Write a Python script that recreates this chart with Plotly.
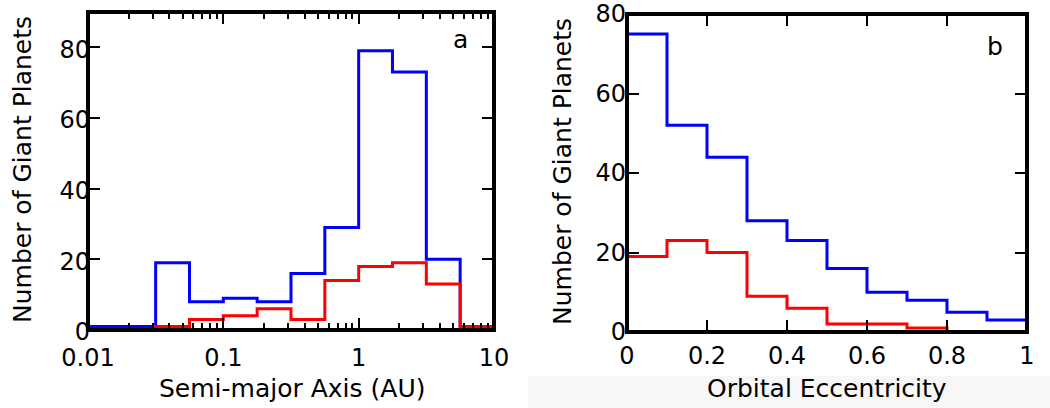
import plotly.graph_objects as go

# ---- Data ----
# Panel a: semi-major axis histogram (quarter-decade bins, 0.01 .. 10 AU)
a_edges = [0.01, 0.01778, 0.03162, 0.05623, 0.1, 0.1778, 0.3162, 0.5623, 1.0, 1.778, 3.162, 5.623, 10.0]
a_blue = [1, 1, 19, 8, 9, 8, 16, 29, 79, 73, 20, 1]
a_red = [0, 0, 1, 3, 4, 6, 3, 14, 18, 19, 13, 1]

# Panel b: orbital eccentricity histogram (bins of 0.1)
e_edges = [0.0, 0.1, 0.2, 0.3, 0.4, 0.5, 0.6, 0.7, 0.8, 0.9, 1.0]
e_blue = [75, 52, 44, 28, 23, 16, 10, 8, 5, 3]
e_red = [19, 23, 20, 9, 6, 2, 2, 1, 0, 0]

a_ticks = [0.01, 0.1, 1, 10]
a_ticktext = ["0.01", "0.1", "1", "10"]
a_minor = [m * d for d in (0.01, 0.1, 1) for m in range(2, 10)]
e_ticks = [0, 0.2, 0.4, 0.6, 0.8, 1]
e_ticktext = ["0", "0.2", "0.4", "0.6", "0.8", "1"]
y_ticks = [0, 20, 40, 60, 80]

BLUE = "#0000ff"
RED = "#ff0000"
FONT = "DejaVu Sans"
FS_TICK = 24
FS_TITLE = 25


def steps(edges, counts):
    return list(edges), list(counts) + [counts[-1]]


fig = go.Figure()
for counts, col in ((a_blue, BLUE), (a_red, RED)):
    x, y = steps(a_edges, counts)
    fig.add_trace(go.Scatter(x=x, y=y, mode="lines", line=dict(shape="hv", color=col, width=3),
                             xaxis="x", yaxis="y", showlegend=False, hoverinfo="skip"))
for counts, col in ((e_blue, BLUE), (e_red, RED)):
    x, y = steps(e_edges, counts)
    fig.add_trace(go.Scatter(x=x, y=y, mode="lines", line=dict(shape="hv", color=col, width=3),
                             xaxis="x2", yaxis="y2", showlegend=False, hoverinfo="skip"))

W, H = 1050, 408
common = dict(showline=False, mirror="ticks", automargin=False,
              ticks="inside", ticklen=12, tickwidth=2, tickcolor="black",
              showgrid=False, zeroline=False,
              tickfont=dict(family=FONT, size=FS_TICK, color="black"))


def title_ann(text, x, y, angle=0):
    return dict(text=text, xref="paper", yref="paper", x=x / W, y=1 - y / H, showarrow=False,
                textangle=angle, xanchor="center", yanchor="middle",
                font=dict(family=FONT, size=FS_TITLE, color="black"))


fig.update_layout(
    width=W, height=H, margin=dict(l=0, r=0, t=0, b=0),
    paper_bgcolor="white", plot_bgcolor="white",
    xaxis=dict(domain=[88 / W, 494 / W], anchor="y", type="log", range=[-2, 1],
               tickmode="array", tickvals=a_ticks, ticktext=a_ticktext,
               minor=dict(tickmode="array", tickvals=a_minor, ticks="inside", ticklen=7,
                          tickwidth=2, tickcolor="black"),
               ticklabelstandoff=11, **common),
    yaxis=dict(domain=[1 - 330 / H, 1 - 12 / H], anchor="x", range=[0, 90],
               tickmode="array", tickvals=y_ticks, ticklabelstandoff=-3, ticklabelshift=2, **common),
    xaxis2=dict(domain=[627 / W, 1027 / W], anchor="y2", range=[0, 1],
                tickmode="array", tickvals=e_ticks, ticktext=e_ticktext,
                ticklabelstandoff=7, **common),
    yaxis2=dict(domain=[1 - 332 / H, 1 - 14 / H], anchor="x2", range=[0, 80.02],
                tickmode="array", tickvals=y_ticks, ticklabelstandoff=0, **common),
    shapes=[
        dict(type="rect", xref="paper", yref="paper", x0=528 / W, x1=1, y0=0, y1=1 - 376 / H,
             fillcolor="#f7f7f7", line=dict(width=0), layer="below"),
        dict(type="rect", xref="x domain", yref="y domain", x0=0, x1=1, y0=0, y1=1,
             line=dict(color="black", width=4), layer="above"),
        dict(type="rect", xref="x2 domain", yref="y2 domain", x0=0, x1=1, y0=0, y1=1,
             line=dict(color="black", width=4), layer="above"),
    ],
    annotations=[
        dict(text="a", xref="paper", yref="paper", x=460 / W, y=1 - 39 / H, showarrow=False,
             xanchor="center", yanchor="middle", font=dict(family=FONT, size=FS_TITLE, color="black")),
        dict(text="b", xref="paper", yref="paper", x=995 / W, y=1 - 46 / H, showarrow=False,
             xanchor="center", yanchor="middle", font=dict(family=FONT, size=FS_TITLE, color="black")),
        title_ann("Semi-major Axis (AU)", 292, 388),
        title_ann("Orbital Eccentricity", 827, 388),
        title_ann("Number of Giant Planets", 22, 170, -90),
        title_ann("Number of Giant Planets", 562, 172, -90),
    ],
)

fig.write_html("out.html")
